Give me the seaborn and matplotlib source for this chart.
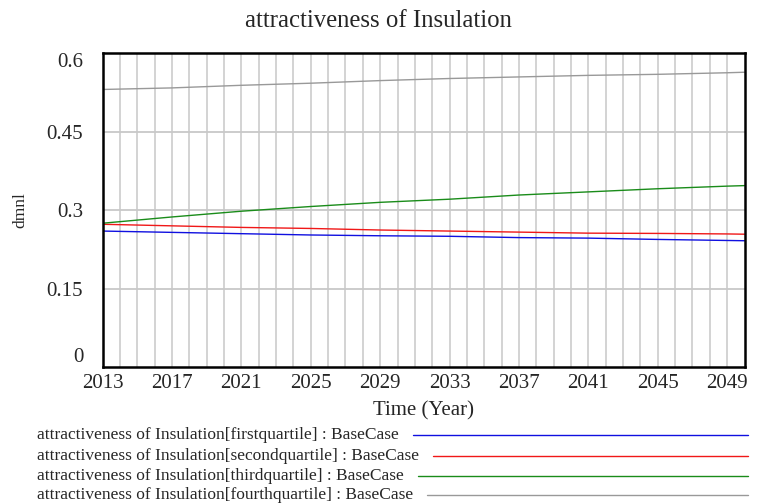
import matplotlib
matplotlib.use("Agg")
import matplotlib.pyplot as plt
from matplotlib.lines import Line2D
import seaborn as sns
import pandas as pd

# values (dmnl)
years = [2013, 2017, 2021, 2025, 2029, 2033, 2037, 2041, 2045, 2049, 2050]
first_q = [0.260, 0.2575, 0.255, 0.2525, 0.251, 0.250, 0.2475, 0.2465, 0.244, 0.242, 0.2415]
second_q = [0.273, 0.270, 0.267, 0.265, 0.262, 0.260, 0.258, 0.256, 0.2555, 0.2545, 0.254]
third_q = [0.275, 0.287, 0.298, 0.307, 0.315, 0.321, 0.329, 0.335, 0.341, 0.346, 0.347]
fourth_q = [0.531, 0.534, 0.539, 0.543, 0.548, 0.552, 0.555, 0.558, 0.560, 0.563, 0.564]

series_names = [
    "attractiveness of Insulation[firstquartile] : BaseCase",
    "attractiveness of Insulation[secondquartile] : BaseCase",
    "attractiveness of Insulation[thirdquartile] : BaseCase",
    "attractiveness of Insulation[fourthquartile] : BaseCase",
]
colors = ["#1010e0", "#f01818", "#1a8c1a", "#999999"]

x_ticks = list(range(2013, 2050, 4))
y_ticks = [0, 0.15, 0.3, 0.45, 0.6]
y_tick_labels = ["0", "0.15", "0.3", "0.45", "0.6"]

df = pd.DataFrame({
    "year": years * 4,
    "value": first_q + second_q + third_q + fourth_q,
    "series": sum([[n] * len(years) for n in series_names], []),
})

sns.set_style("white")
plt.rcParams["font.family"] = ["Liberation Serif", "DejaVu Serif"]

fig = plt.figure(figsize=(7.57, 5.04), dpi=100)
ax = fig.add_axes([0.1355, 0.272, 0.848, 0.622])

sns.lineplot(data=df, x="year", y="value", hue="series", palette=colors,
             linewidth=1.0, legend=False, ax=ax)

ax.set_xlim(2013, 2050)
ax.set_ylim(0, 0.6)

# yearly vertical grid, horizontal grid at the inner ticks
for yr in range(2014, 2050):
    ax.axvline(yr, color="#c8c8c8", lw=1.1, zorder=0)
for yv in y_ticks[1:-1]:
    ax.axhline(yv, color="#c8c8c8", lw=1.3, zorder=0)

ax.set_xticks(x_ticks)
ax.set_xticklabels([str(t) for t in x_ticks], fontsize=15)
ax.set_yticks(y_ticks)
ax.set_yticklabels(y_tick_labels, fontsize=15)
ax.tick_params(axis="x", length=0, pad=5)
ax.tick_params(axis="y", length=0, pad=14)
labels = ax.get_yticklabels()
labels[0].set_va("bottom")
labels[-1].set_va("top")

for s in ax.spines.values():
    s.set_visible(True)
    s.set_color("black")
    s.set_linewidth(1.8)

ax.set_xlabel("Time (Year)", fontsize=15, labelpad=6)
ax.set_ylabel("")
fig.text(20 / 757, 0.583, "dmnl", rotation=90, ha="center", va="center", fontsize=12.5)
fig.text(0.5, 0.958, "attractiveness of Insulation", ha="center", va="center", fontsize=17.8)

# Vensim-style legend below the chart
row_y = [0.136, 0.096, 0.056, 0.018]
for name, c, yy in zip(series_names, colors, row_y):
    t = fig.text(0.049, yy, name, ha="left", va="center", fontsize=12.5)
    fig.canvas.draw()
    bb = t.get_window_extent()
    x0 = (bb.x1 + 14) / fig.bbox.width
    fig.add_artist(Line2D([x0, 0.988], [yy, yy], color=c, lw=1.0))

fig.savefig("out.png", dpi=100)
